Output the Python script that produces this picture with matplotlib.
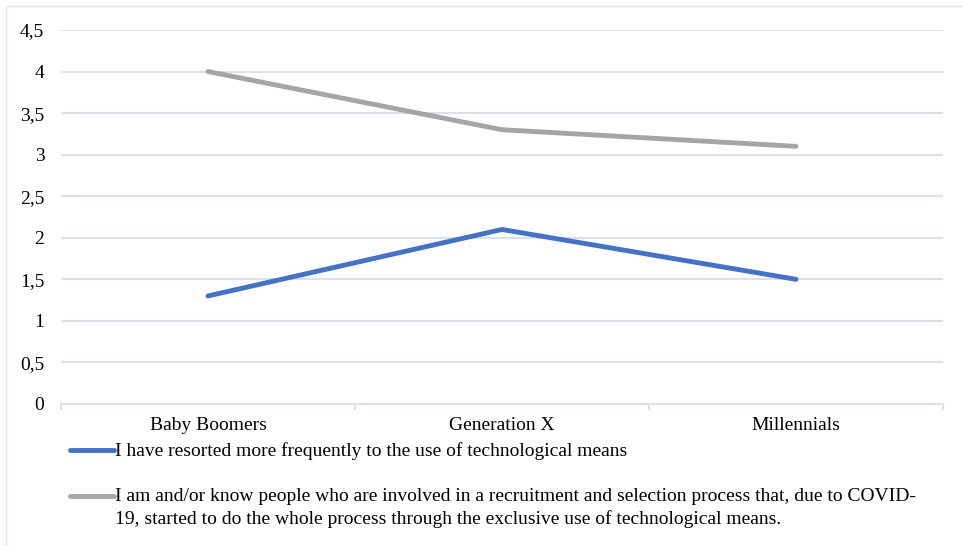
import matplotlib.pyplot as plt
from matplotlib.lines import Line2D

# data
categories = ["Baby Boomers", "Generation X", "Millennials"]
tech_means = [1.3, 2.1, 1.5]
exclusive_tech = [4.0, 3.3, 3.1]
labels = [
    "I have resorted more frequently to the use of technological means",
    "I am and/or know people who are involved in a recruitment and selection process that, due to COVID-\n"
    "19, started to do the whole process through the exclusive use of technological means.",
]
yticks = [0, 0.5, 1, 1.5, 2, 2.5, 3, 3.5, 4, 4.5]
ytick_labels = ["0", "0,5", "1", "1,5", "2", "2,5", "3", "3,5", "4", "4,5"]

colors = ["#4472C4", "#A5A5A5"]
grid_color = "#DCE0E8"

plt.rcParams['font.family'] = ['Liberation Serif', 'DejaVu Serif']

fig = plt.figure(figsize=(9.63, 5.46), dpi=100)
ax = fig.add_axes([61 / 963, 1 - 404 / 546, 882 / 963, 374 / 546])

x = range(len(categories))
ax.plot(x, tech_means, color=colors[0], lw=3.5, solid_capstyle='round')
ax.plot(x, exclusive_tech, color=colors[1], lw=3.5, solid_capstyle='round')

ax.set_xlim(-0.5, len(categories) - 0.5)
ax.set_ylim(0, 4.5)
ax.set_yticks(yticks)
ax.set_yticklabels(ytick_labels, fontsize=14)
ax.set_xticks(list(x))
ax.set_xticklabels(categories, fontsize=14)
ax.tick_params(axis='y', length=0, pad=12)
ax.tick_params(axis='x', length=0, pad=9)

# category boundary ticks
for b in [-0.5, 0.5, 1.5, 2.5]:
    ax.plot([b, b], [0, -0.06], color=grid_color, lw=1.5, clip_on=False)

ax.grid(axis='y', color=grid_color, lw=1.5)
ax.set_axisbelow(True)
for s in ['top', 'right', 'left']:
    ax.spines[s].set_visible(False)
ax.spines['bottom'].set_color(grid_color)
ax.spines['bottom'].set_linewidth(1.5)

# legend drawn by hand so the handle lines up with the first text line
W, H = 963, 546
leg_y = [450, 496]
for c, lab, yy in zip(colors, labels, leg_y):
    fig.add_artist(Line2D([70 / W, 114 / W], [1 - yy / H, 1 - yy / H],
                          color=c, lw=3.5, solid_capstyle='round'))
    fig.text(115 / W, 1 - (yy - 8) / H, lab, fontsize=14, va='top', ha='left',
             linespacing=1.4)

# outer frame (left and top edges)
fig.add_artist(Line2D([6 / W, 6 / W], [0, 1 - 6 / H], color="#E3E6EC", lw=1))
fig.add_artist(Line2D([6 / W, 1], [1 - 6 / H, 1 - 6 / H], color="#E3E6EC", lw=1))

fig.savefig("out.png", dpi=100)
